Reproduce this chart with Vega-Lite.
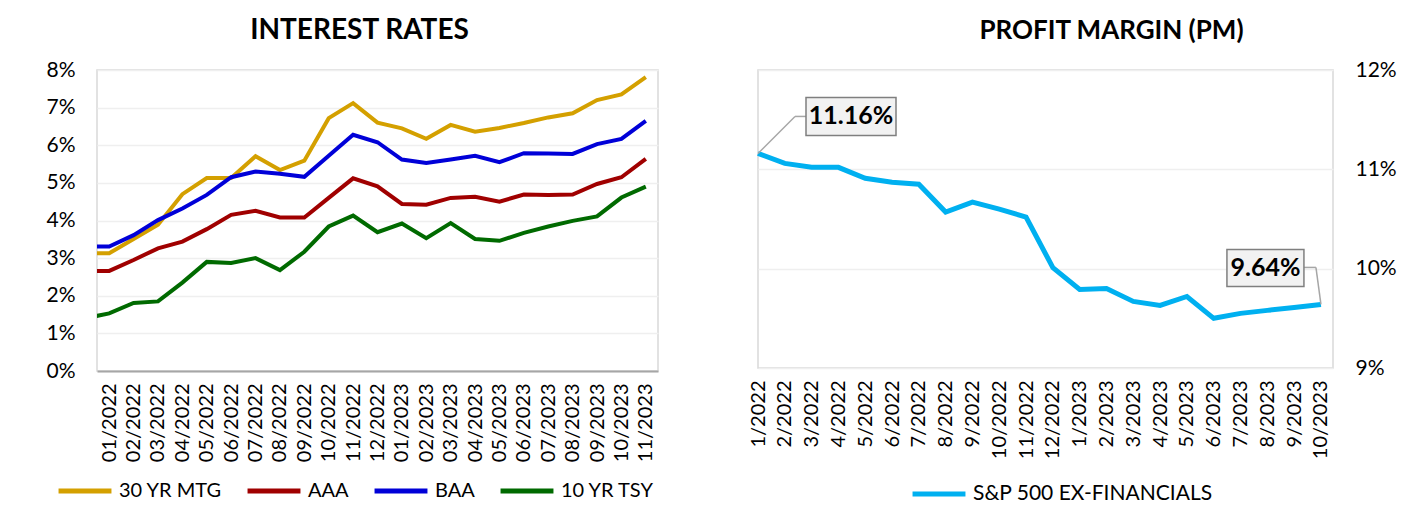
{
  "$schema": "https://vega.github.io/schema/vega-lite/v6.json",
  "background": "white",
  "padding": {"left": 45, "top": 16, "right": 10, "bottom": 5},
  "spacing": 88,
  "resolve": {"scale": {"color": "independent"}, "legend": {"color": "independent"}},
  "config": {
    "font": "Lato, sans-serif",
    "view": {"stroke": "#d9d9d9", "strokeWidth": 1.5},
    "axis": {"labelColor": "#000000", "labelFontSize": 21, "ticks": false, "domain": false, "gridColor": "#efefef", "gridWidth": 1.5, "title": null, "labelFont": "Lato, sans-serif", "labelOverlap": false},
    "title": {"fontSize": 28, "fontWeight": "bold", "color": "#000000", "font": "Lato, sans-serif"},
    "legend": {"labelFontSize": 20, "labelColor": "#000000", "labelFont": "Lato, sans-serif", "symbolType": "stroke", "symbolSize": 2800, "symbolStrokeWidth": 5, "labelOffset": 5, "labelLimit": 500}
  },
  "datasets": {
    "rates": [
      {"idx": -1, "month": "12/2021", "series": "30 YR MTG", "value": 0.0313},
      {"idx": 0, "month": "01/2022", "series": "30 YR MTG", "value": 0.0313},
      {"idx": 1, "month": "02/2022", "series": "30 YR MTG", "value": 0.0351},
      {"idx": 2, "month": "03/2022", "series": "30 YR MTG", "value": 0.0389},
      {"idx": 3, "month": "04/2022", "series": "30 YR MTG", "value": 0.0470},
      {"idx": 4, "month": "05/2022", "series": "30 YR MTG", "value": 0.0513},
      {"idx": 5, "month": "06/2022", "series": "30 YR MTG", "value": 0.0513},
      {"idx": 6, "month": "07/2022", "series": "30 YR MTG", "value": 0.0571},
      {"idx": 7, "month": "08/2022", "series": "30 YR MTG", "value": 0.0534},
      {"idx": 8, "month": "09/2022", "series": "30 YR MTG", "value": 0.0559},
      {"idx": 9, "month": "10/2022", "series": "30 YR MTG", "value": 0.0672},
      {"idx": 10, "month": "11/2022", "series": "30 YR MTG", "value": 0.0712},
      {"idx": 11, "month": "12/2022", "series": "30 YR MTG", "value": 0.0660},
      {"idx": 12, "month": "01/2023", "series": "30 YR MTG", "value": 0.0645},
      {"idx": 13, "month": "02/2023", "series": "30 YR MTG", "value": 0.0617},
      {"idx": 14, "month": "03/2023", "series": "30 YR MTG", "value": 0.0654},
      {"idx": 15, "month": "04/2023", "series": "30 YR MTG", "value": 0.0636},
      {"idx": 16, "month": "05/2023", "series": "30 YR MTG", "value": 0.0646},
      {"idx": 17, "month": "06/2023", "series": "30 YR MTG", "value": 0.0659},
      {"idx": 18, "month": "07/2023", "series": "30 YR MTG", "value": 0.0674},
      {"idx": 19, "month": "08/2023", "series": "30 YR MTG", "value": 0.0685},
      {"idx": 20, "month": "09/2023", "series": "30 YR MTG", "value": 0.0720},
      {"idx": 21, "month": "10/2023", "series": "30 YR MTG", "value": 0.0735},
      {"idx": 22, "month": "11/2023", "series": "30 YR MTG", "value": 0.0781},
      {"idx": -1, "month": "12/2021", "series": "AAA", "value": 0.0266},
      {"idx": 0, "month": "01/2022", "series": "AAA", "value": 0.0266},
      {"idx": 1, "month": "02/2022", "series": "AAA", "value": 0.0295},
      {"idx": 2, "month": "03/2022", "series": "AAA", "value": 0.0326},
      {"idx": 3, "month": "04/2022", "series": "AAA", "value": 0.0344},
      {"idx": 4, "month": "05/2022", "series": "AAA", "value": 0.0377},
      {"idx": 5, "month": "06/2022", "series": "AAA", "value": 0.0415},
      {"idx": 6, "month": "07/2022", "series": "AAA", "value": 0.0426},
      {"idx": 7, "month": "08/2022", "series": "AAA", "value": 0.0408},
      {"idx": 8, "month": "09/2022", "series": "AAA", "value": 0.0408},
      {"idx": 9, "month": "10/2022", "series": "AAA", "value": 0.0460},
      {"idx": 10, "month": "11/2022", "series": "AAA", "value": 0.0512},
      {"idx": 11, "month": "12/2022", "series": "AAA", "value": 0.0491},
      {"idx": 12, "month": "01/2023", "series": "AAA", "value": 0.0444},
      {"idx": 13, "month": "02/2023", "series": "AAA", "value": 0.0442},
      {"idx": 14, "month": "03/2023", "series": "AAA", "value": 0.0460},
      {"idx": 15, "month": "04/2023", "series": "AAA", "value": 0.0463},
      {"idx": 16, "month": "05/2023", "series": "AAA", "value": 0.0450},
      {"idx": 17, "month": "06/2023", "series": "AAA", "value": 0.0469},
      {"idx": 18, "month": "07/2023", "series": "AAA", "value": 0.0468},
      {"idx": 19, "month": "08/2023", "series": "AAA", "value": 0.0469},
      {"idx": 20, "month": "09/2023", "series": "AAA", "value": 0.0497},
      {"idx": 21, "month": "10/2023", "series": "AAA", "value": 0.0515},
      {"idx": 22, "month": "11/2023", "series": "AAA", "value": 0.0564},
      {"idx": -1, "month": "12/2021", "series": "BAA", "value": 0.0331},
      {"idx": 0, "month": "01/2022", "series": "BAA", "value": 0.0331},
      {"idx": 1, "month": "02/2022", "series": "BAA", "value": 0.0361},
      {"idx": 2, "month": "03/2022", "series": "BAA", "value": 0.0401},
      {"idx": 3, "month": "04/2022", "series": "BAA", "value": 0.0432},
      {"idx": 4, "month": "05/2022", "series": "BAA", "value": 0.0468},
      {"idx": 5, "month": "06/2022", "series": "BAA", "value": 0.0515},
      {"idx": 6, "month": "07/2022", "series": "BAA", "value": 0.0530},
      {"idx": 7, "month": "08/2022", "series": "BAA", "value": 0.0524},
      {"idx": 8, "month": "09/2022", "series": "BAA", "value": 0.0516},
      {"idx": 9, "month": "10/2022", "series": "BAA", "value": 0.0572},
      {"idx": 10, "month": "11/2022", "series": "BAA", "value": 0.0628},
      {"idx": 11, "month": "12/2022", "series": "BAA", "value": 0.0608},
      {"idx": 12, "month": "01/2023", "series": "BAA", "value": 0.0562},
      {"idx": 13, "month": "02/2023", "series": "BAA", "value": 0.0553},
      {"idx": 14, "month": "03/2023", "series": "BAA", "value": 0.0562},
      {"idx": 15, "month": "04/2023", "series": "BAA", "value": 0.0572},
      {"idx": 16, "month": "05/2023", "series": "BAA", "value": 0.0555},
      {"idx": 17, "month": "06/2023", "series": "BAA", "value": 0.0579},
      {"idx": 18, "month": "07/2023", "series": "BAA", "value": 0.0578},
      {"idx": 19, "month": "08/2023", "series": "BAA", "value": 0.0577},
      {"idx": 20, "month": "09/2023", "series": "BAA", "value": 0.0603},
      {"idx": 21, "month": "10/2023", "series": "BAA", "value": 0.0617},
      {"idx": 22, "month": "11/2023", "series": "BAA", "value": 0.0665},
      {"idx": -1, "month": "12/2021", "series": "10 YR TSY", "value": 0.0140},
      {"idx": 0, "month": "01/2022", "series": "10 YR TSY", "value": 0.0153},
      {"idx": 1, "month": "02/2022", "series": "10 YR TSY", "value": 0.0181},
      {"idx": 2, "month": "03/2022", "series": "10 YR TSY", "value": 0.0185},
      {"idx": 3, "month": "04/2022", "series": "10 YR TSY", "value": 0.0235},
      {"idx": 4, "month": "05/2022", "series": "10 YR TSY", "value": 0.0290},
      {"idx": 5, "month": "06/2022", "series": "10 YR TSY", "value": 0.0287},
      {"idx": 6, "month": "07/2022", "series": "10 YR TSY", "value": 0.0300},
      {"idx": 7, "month": "08/2022", "series": "10 YR TSY", "value": 0.0268},
      {"idx": 8, "month": "09/2022", "series": "10 YR TSY", "value": 0.0317},
      {"idx": 9, "month": "10/2022", "series": "10 YR TSY", "value": 0.0384},
      {"idx": 10, "month": "11/2022", "series": "10 YR TSY", "value": 0.0413},
      {"idx": 11, "month": "12/2022", "series": "10 YR TSY", "value": 0.0369},
      {"idx": 12, "month": "01/2023", "series": "10 YR TSY", "value": 0.0392},
      {"idx": 13, "month": "02/2023", "series": "10 YR TSY", "value": 0.0353},
      {"idx": 14, "month": "03/2023", "series": "10 YR TSY", "value": 0.0393},
      {"idx": 15, "month": "04/2023", "series": "10 YR TSY", "value": 0.0351},
      {"idx": 16, "month": "05/2023", "series": "10 YR TSY", "value": 0.0346},
      {"idx": 17, "month": "06/2023", "series": "10 YR TSY", "value": 0.0367},
      {"idx": 18, "month": "07/2023", "series": "10 YR TSY", "value": 0.0384},
      {"idx": 19, "month": "08/2023", "series": "10 YR TSY", "value": 0.0399},
      {"idx": 20, "month": "09/2023", "series": "10 YR TSY", "value": 0.0411},
      {"idx": 21, "month": "10/2023", "series": "10 YR TSY", "value": 0.0461},
      {"idx": 22, "month": "11/2023", "series": "10 YR TSY", "value": 0.0490}
    ],
    "pm": [
      {"idx": 0, "month": "1/2022", "value": 0.1116},
      {"idx": 1, "month": "2/2022", "value": 0.1106},
      {"idx": 2, "month": "3/2022", "value": 0.1102},
      {"idx": 3, "month": "4/2022", "value": 0.1102},
      {"idx": 4, "month": "5/2022", "value": 0.1091},
      {"idx": 5, "month": "6/2022", "value": 0.1087},
      {"idx": 6, "month": "7/2022", "value": 0.1085},
      {"idx": 7, "month": "8/2022", "value": 0.1057},
      {"idx": 8, "month": "9/2022", "value": 0.1067},
      {"idx": 9, "month": "10/2022", "value": 0.1060},
      {"idx": 10, "month": "11/2022", "value": 0.1052},
      {"idx": 11, "month": "12/2022", "value": 0.1001},
      {"idx": 12, "month": "1/2023", "value": 0.0979},
      {"idx": 13, "month": "2/2023", "value": 0.0980},
      {"idx": 14, "month": "3/2023", "value": 0.0967},
      {"idx": 15, "month": "4/2023", "value": 0.0963},
      {"idx": 16, "month": "5/2023", "value": 0.0972},
      {"idx": 17, "month": "6/2023", "value": 0.0950},
      {"idx": 18, "month": "7/2023", "value": 0.0955},
      {"idx": 19, "month": "8/2023", "value": 0.0958},
      {"idx": 20, "month": "9/2023", "value": 0.0961},
      {"idx": 21, "month": "10/2023", "value": 0.0964}
    ]
  },
  "hconcat": [
    {
      "width": 561,
      "height": 301,
      "title": {"text": "INTEREST RATES", "dx": -18, "offset": 14},
      "data": {"name": "rates"},
      "mark": {"type": "line", "strokeWidth": 4, "clip": true},
      "encoding": {
        "x": {
          "field": "idx", "type": "quantitative",
          "scale": {"domain": [-0.5, 22.5], "nice": false, "zero": false},
          "axis": {
            "values": [0,1,2,3,4,5,6,7,8,9,10,11,12,13,14,15,16,17,18,19,20,21,22],
            "labelExpr": "(datum.value % 12 < 9 ? '0' : '') + (datum.value % 12 + 1) + '/' + (2022 + floor(datum.value / 12))",
            "labelAngle": -90, "labelAlign": "right", "labelBaseline": "middle", "labelOverlap": false,
            "labelFontSize": 20, "labelPadding": 12, "grid": false,
            "domain": true, "domainColor": "#a6a6a6", "domainWidth": 2
          }
        },
        "y": {
          "field": "value", "type": "quantitative",
          "scale": {"domain": [0, 0.08], "nice": false},
          "axis": {"values": [0,0.01,0.02,0.03,0.04,0.05,0.06,0.07,0.08], "format": ".0%", "labelPadding": 22}
        },
        "color": {
          "field": "series", "type": "nominal",
          "scale": {"domain": ["30 YR MTG", "AAA", "BAA", "10 YR TSY"], "range": ["#D4A000", "#A00000", "#0000D8", "#006A00"]},
          "legend": {"orient": "none", "legendX": -41, "legendY": 392, "direction": "horizontal", "title": null, "columnPadding": 15}
        }
      }
    },
    {
      "width": 575,
      "height": 298,
      "title": {"text": "PROFIT MARGIN (PM)", "dx": 66, "offset": 15, "fontSize": 26},
      "data": {"name": "pm"},
      "encoding": {
        "x": {
          "field": "idx", "type": "quantitative",
          "scale": {"domain": [0, 21.45], "nice": false, "zero": false},
          "axis": {
            "values": [0,1,2,3,4,5,6,7,8,9,10,11,12,13,14,15,16,17,18,19,20,21],
            "labelExpr": "(datum.value % 12 + 1) + '/' + (2022 + floor(datum.value / 12))",
            "labelAngle": -90, "labelAlign": "right", "labelBaseline": "middle", "labelOverlap": false,
            "labelFontSize": 20, "labelPadding": 12, "grid": false
          }
        },
        "y": {
          "field": "value", "type": "quantitative",
          "scale": {"domain": [0.09, 0.12], "nice": false, "zero": false},
          "axis": {"orient": "right", "values": [0.09, 0.10, 0.11, 0.12], "format": ".0%", "labelPadding": 22}
        }
      },
      "layer": [
        {
          "mark": {"type": "line", "strokeWidth": 5},
          "encoding": {
            "color": {
              "datum": "S&P 500 EX-FINANCIALS",
              "type": "nominal",
              "scale": {"range": ["#00B0F0"]},
              "legend": {"orient": "none", "legendX": 152, "legendY": 395, "direction": "horizontal", "title": null, "labelFontSize": 21}
            }
          }
        },
        {
          "transform": [{"filter": "datum.idx == 0"}],
          "mark": {"type": "rule", "color": "#a6a6a6", "strokeWidth": 1.5, "x2Offset": 37, "y2Offset": -37},
          "encoding": {"x2": {"field": "idx"}, "y2": {"field": "value"}}
        },
        {
          "transform": [{"filter": "datum.idx == 0"}],
          "mark": {"type": "rule", "color": "#a6a6a6", "strokeWidth": 1.5, "xOffset": 37, "yOffset": -37, "x2Offset": 48, "y2Offset": -37},
          "encoding": {"x2": {"field": "idx"}, "y2": {"field": "value"}}
        },
        {
          "transform": [{"filter": "datum.idx == 0"}],
          "mark": {"type": "rect", "fill": "#f2f2f2", "stroke": "#7f7f7f", "strokeWidth": 1.5, "xOffset": 48, "x2Offset": 138, "yOffset": -56, "y2Offset": -18},
          "encoding": {"x2": {"field": "idx"}, "y2": {"field": "value"}}
        },
        {
          "transform": [{"filter": "datum.idx == 0"}],
          "mark": {"type": "text", "fontSize": 25, "fontWeight": "bold", "color": "#000000", "dx": 93, "dy": -37, "align": "center", "baseline": "middle"},
          "encoding": {"text": {"field": "value", "type": "quantitative", "format": ".2%"}}
        },
        {
          "transform": [{"filter": "datum.idx == 21"}],
          "mark": {"type": "rule", "color": "#a6a6a6", "strokeWidth": 1.5, "xOffset": -5, "yOffset": -37},
          "encoding": {"x2": {"field": "idx"}, "y2": {"field": "value"}}
        },
        {
          "transform": [{"filter": "datum.idx == 21"}],
          "mark": {"type": "rule", "color": "#a6a6a6", "strokeWidth": 1.5, "xOffset": -17, "yOffset": -37, "x2Offset": -5, "y2Offset": -37},
          "encoding": {"x2": {"field": "idx"}, "y2": {"field": "value"}}
        },
        {
          "transform": [{"filter": "datum.idx == 21"}],
          "mark": {"type": "rect", "fill": "#f2f2f2", "stroke": "#7f7f7f", "strokeWidth": 1.5, "xOffset": -94, "x2Offset": -17, "yOffset": -55, "y2Offset": -18},
          "encoding": {"x2": {"field": "idx"}, "y2": {"field": "value"}}
        },
        {
          "transform": [{"filter": "datum.idx == 21"}],
          "mark": {"type": "text", "fontSize": 25, "fontWeight": "bold", "color": "#000000", "dx": -55.5, "dy": -36.5, "align": "center", "baseline": "middle"},
          "encoding": {"text": {"field": "value", "type": "quantitative", "format": ".2%"}}
        }
      ]
    }
  ]
}
